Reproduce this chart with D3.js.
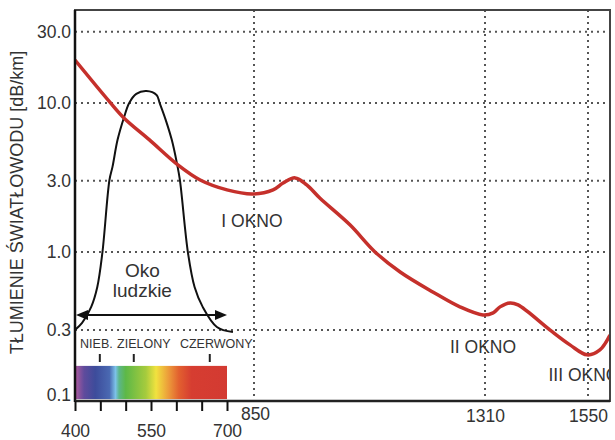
<!DOCTYPE html>
<html>
<head>
<meta charset="utf-8">
<script src="https://cdn.jsdelivr.net/npm/d3@7"></script>
<style>
body { margin: 0; background: #fff; }
text { font-family: "Liberation Sans", Arial, sans-serif; fill: #333; }
</style>
</head>
<body>
<svg id="chart" width="615" height="440"></svg>
<script>
// attenuation of the fibre
var lossNm = [400, 468, 497, 547, 603, 647, 700, 844, 888, 908, 932, 955, 981, 1041, 1091, 1141, 1206, 1260, 1306, 1329, 1345, 1368, 1387, 1461, 1508, 1548, 1577, 1600];
var lossDb = [19.4, 10.2, 7.9, 5.65, 3.84, 3.04, 2.61, 2.45, 2.61, 2.9, 3.14, 2.82, 2.3, 1.52, 1.0, 0.734, 0.539, 0.428, 0.378, 0.39, 0.428, 0.455, 0.441, 0.30, 0.238, 0.204, 0.22, 0.277];

// eye sensitivity bell (drawn in the same units)
var eyeNm = [400, 414, 432, 444, 454, 468, 474, 484, 497, 507, 521, 541, 561, 567, 579, 591, 601, 607, 623, 636, 652, 680, 733];
var eyeVal = [0.30, 0.334, 0.428, 0.582, 0.985, 3.04, 3.72, 5.65, 8.05, 10.0, 11.5, 12.0, 11.3, 10.0, 7.7, 5.65, 3.96, 3.04, 0.985, 0.582, 0.428, 0.314, 0.29];
var eyeSpan = [400, 700];
var eyeArrowDb = 0.378;
var eyeText = ["Oko", "ludzkie"];

var yTicks = [30, 10, 3, 1, 0.3, 0.1];
var yTickLabels = ["30.0", "10.0", "3.0", "1.0", "0.3", "0.1"];
var gridDb = [30, 10, 3, 1, 0.3];
var visTicks = [400, 450, 500, 550, 600, 650, 700];
var visLabels = [400, 550, 700];
var windowNm = [850, 1310, 1550];
var windowLabels = ["I OKNO", "II OKNO", "III OKNO"];
var windowLabelDb = [1.47, 0.21, 0.136];

var bandNames = ["NIEB.", "ZIELONY", "CZERWONY"];
var bandNm = [449, 516, 666];
var bandTextNm = [410, 483, 607];

var spectrumNm = [400, 418, 440, 468, 480, 487, 500, 540, 560, 585, 605, 630, 700];
var spectrumColors = ["#b15c9f", "#5f4b9c", "#3d4c9b", "#4a69b2", "#7cc2e8", "#5cb68a", "#5db847", "#a6cb3d", "#f1e23f", "#ec9a3a", "#e2602f", "#d63d31", "#d33a32"];

var title = "TŁUMIENIE ŚWIATŁOWODU [dB/km]";

var plotL = 75, plotR = 610, plotT = 10, plotB = 401;

var svg = d3.select('#chart');

var x = d3.scaleLinear()
    .domain([400, 700, 850, 1310, 1550, 1600])
    .range([plotL, 227, 254, 485, 588, plotR]);

var y = d3.scaleLog()
    .domain([0.1, 42])
    .range([plotB, plotT]);

var defs = svg.append('defs');
defs.append('clipPath').attr('id', 'plotClip')
    .append('rect')
    .attr('x', plotL).attr('y', plotT)
    .attr('width', plotR - plotL).attr('height', plotB - plotT);

var grad = defs.append('linearGradient').attr('id', 'spectrum')
    .attr('x1', 0).attr('x2', 1).attr('y1', 0).attr('y2', 0);
grad.selectAll('stop')
    .data(spectrumNm)
    .enter()
    .append('stop')
    .attr('offset', function(d) { return (d - 400) / 300; })
    .attr('stop-color', function(d, i) { return spectrumColors[i]; });

var plot = svg.append('g').attr('clip-path', 'url(#plotClip)');

// grid
var gGrid = plot.append('g').attr('stroke', '#555').attr('stroke-width', 2).attr('stroke-dasharray', '2,4');
gGrid.selectAll('line.h')
    .data(gridDb)
    .enter()
    .append('line')
    .attr('class', 'h')
    .attr('x1', plotL).attr('x2', plotR)
    .attr('y1', function(d) { return y(d); })
    .attr('y2', function(d) { return y(d); });
gGrid.selectAll('line.v')
    .data(windowNm)
    .enter()
    .append('line')
    .attr('class', 'v')
    .attr('x1', function(d) { return x(d); })
    .attr('x2', function(d) { return x(d); })
    .attr('y1', plotT).attr('y2', plotB);

// spectrum bar
plot.append('rect')
    .attr('x', x(400)).attr('width', x(700) - x(400))
    .attr('y', y(0.172)).attr('height', y(0.103) - y(0.172))
    .attr('fill', 'url(#spectrum)');

plot.selectAll('line.band')
    .data(bandNm)
    .enter()
    .append('line')
    .attr('class', 'band')
    .attr('x1', function(d) { return x(d); })
    .attr('x2', function(d) { return x(d); })
    .attr('y1', 354).attr('y2', 362)
    .attr('stroke', '#222').attr('stroke-width', 2);

plot.selectAll('text.band')
    .data(bandNames)
    .enter()
    .append('text')
    .attr('class', 'band')
    .attr('x', function(d, i) { return x(bandTextNm[i]); })
    .attr('y', 348)
    .attr('font-size', 12.5)
    .text(function(d) { return d; });

// eye curve
var line = d3.line()
    .x(function(d) { return x(d[0]); })
    .y(function(d) { return y(d[1]); })
    .curve(d3.curveCatmullRom.alpha(0.5));

plot.append('path')
    .datum(d3.zip(eyeNm, eyeVal))
    .attr('d', line)
    .attr('fill', 'none')
    .attr('stroke', '#111')
    .attr('stroke-width', 2);

// double arrow
var ay = y(eyeArrowDb);
var ax1 = x(eyeSpan[0]), ax2 = x(eyeSpan[1]);
plot.append('line')
    .attr('x1', ax1 + 6).attr('x2', ax2 - 6)
    .attr('y1', ay).attr('y2', ay)
    .attr('stroke', '#111').attr('stroke-width', 2);
plot.append('path')
    .attr('d', 'M' + (ax1 + 1) + ',' + ay + 'L' + (ax1 + 13) + ',' + (ay - 5) + 'L' + (ax1 + 13) + ',' + (ay + 5) + 'Z')
    .attr('fill', '#111');
plot.append('path')
    .attr('d', 'M' + ax2 + ',' + ay + 'L' + (ax2 - 12) + ',' + (ay - 5) + 'L' + (ax2 - 12) + ',' + (ay + 5) + 'Z')
    .attr('fill', '#111');

plot.selectAll('text.eye')
    .data(eyeText)
    .enter()
    .append('text')
    .attr('class', 'eye')
    .attr('x', x(533))
    .attr('y', function(d, i) { return 277 + i * 20; })
    .attr('text-anchor', 'middle')
    .attr('font-size', 19)
    .text(function(d) { return d; });

// attenuation curve
plot.append('path')
    .datum(d3.zip(lossNm, lossDb))
    .attr('d', line)
    .attr('fill', 'none')
    .attr('stroke', '#c5302b')
    .attr('stroke-width', 3.5)
    .attr('stroke-linejoin', 'round');

// window labels
plot.selectAll('text.win')
    .data(windowLabels)
    .enter()
    .append('text')
    .attr('class', 'win')
    .attr('x', function(d, i) { return x(windowNm[i]) - (i == 2 ? 4 : 2); })
    .attr('y', function(d, i) { return y(windowLabelDb[i]); })
    .attr('text-anchor', 'middle')
    .attr('font-size', 17.5)
    .text(function(d) { return d; });

// frame
svg.append('rect')
    .attr('x', plotL).attr('y', plotT)
    .attr('width', plotR - plotL).attr('height', plotB - plotT)
    .attr('fill', 'none').attr('stroke', '#444').attr('stroke-width', 2);
svg.append('line')
    .attr('x1', plotL).attr('x2', plotL).attr('y1', plotT).attr('y2', plotB + 1)
    .attr('stroke', '#111').attr('stroke-width', 2.5);
svg.append('line')
    .attr('x1', plotL).attr('x2', plotR).attr('y1', plotB).attr('y2', plotB)
    .attr('stroke', '#222').attr('stroke-width', 2.5);

// axes
var xAxisVis = d3.axisBottom(x)
    .tickValues(visTicks)
    .tickSize(10)
    .tickPadding(13.5)
    .tickFormat(function(d) { return visLabels.indexOf(d) >= 0 ? String(d) : ''; });
var gxv = svg.append('g').attr('transform', 'translate(0,' + plotB + ')').call(xAxisVis);
gxv.select('.domain').remove();
gxv.selectAll('.tick line').attr('stroke', '#111').attr('stroke-width', 2);
gxv.selectAll('text').attr('font-size', 17.5).attr('font-family', null).attr('fill', '#333');

var xAxisWin = d3.axisBottom(x)
    .tickValues(windowNm)
    .tickSize(0)
    .tickPadding(8.5)
    .tickFormat(d3.format('d'));
var gxw = svg.append('g').attr('transform', 'translate(0,' + plotB + ')').call(xAxisWin);
gxw.select('.domain').remove();
gxw.selectAll('text').attr('font-size', 17.5).attr('font-family', null).attr('fill', '#333');
gxw.selectAll('.tick').filter(function(d) { return d == 850; }).select('text').attr('x', 1).attr('y', 7);

var yAxis = d3.axisLeft(y)
    .tickValues(yTicks)
    .tickSize(0)
    .tickPadding(4)
    .tickFormat(function(d, i) { return yTickLabels[i]; });
var gy = svg.append('g').attr('transform', 'translate(' + plotL + ',0)').call(yAxis);
gy.select('.domain').remove();
gy.selectAll('text').attr('font-size', 17.5).attr('font-family', null).attr('fill', '#333');
gy.selectAll('.tick').filter(function(d) { return d == 0.1; }).select('text').attr('y', -6);

svg.append('text')
    .attr('transform', 'translate(23,' + ((plotT + plotB) / 2 - 3) + ') rotate(-90)')
    .attr('text-anchor', 'middle')
    .attr('font-size', 18)
    .text(title);
</script>
</body>
</html>
